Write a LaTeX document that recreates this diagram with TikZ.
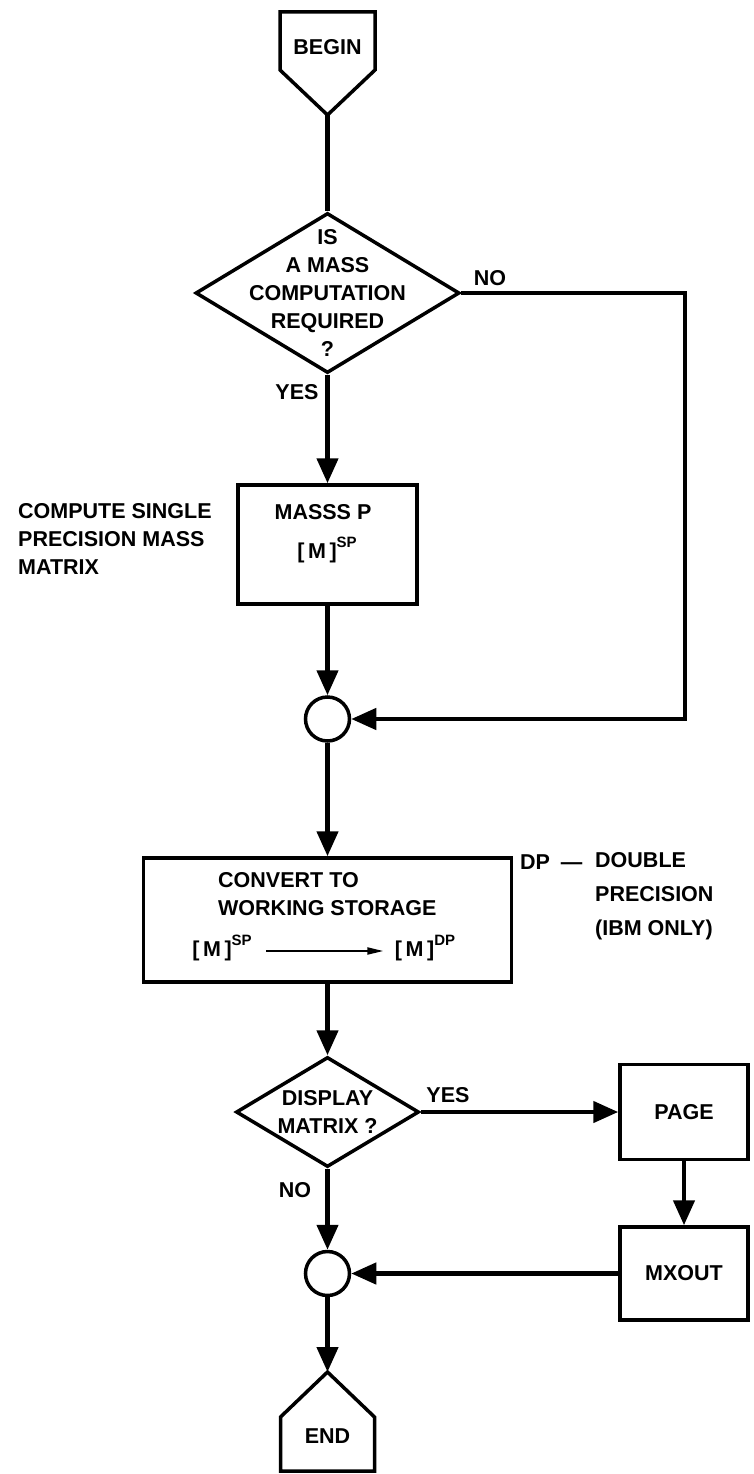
\documentclass[tikz,border=0pt]{standalone}
\usepackage{fontspec}
\setmainfont{Liberation Sans}
\usetikzlibrary{shapes.geometric,arrows.meta,positioning}
\newcommand{\supx}[1]{\raisebox{1.0ex}[0pt][0pt]{\fontsize{15}{15}\selectfont #1}}
\newcommand{\mtx}[1]{[\,M\,]\supx{#1}}

\begin{document}
\begin{tikzpicture}[
    x=1pt, y=-1pt,
    every node/.style={font=\fontsize{21.5}{28}\selectfont\bfseries},
    flow/.style={line width=4.5pt},
    outline/.style={draw, line width=3.5pt},
    procbox/.style={outline, rectangle, inner sep=0pt},
    decision/.style={outline, diamond, inner sep=0pt},
    joint/.style={outline, circle, inner sep=0pt, minimum size=44pt},
    note/.style={align=left, inner sep=0pt},
    >={Triangle[length=25pt,width=21pt]}
]
\useasboundingbox (0,0) rectangle (754,1474);

% start
\draw[outline] (280,12) -- (375,12) -- (375,70) -- (327.5,115) -- (280,70) -- cycle;
\node (begin) at (327.5,47) {BEGIN};
\coordinate (begin tip) at (327.5,115);

\node[decision, minimum width=264pt, minimum height=160pt,
      label={[align=center]center:IS\\A MASS\\COMPUTATION\\REQUIRED\\?}] (ask) at (327.5,293) {};
\node (yes1) at (297,392) {YES};
\node (no1) at (490,278) {NO};

\node[procbox, minimum width=179pt, minimum height=119pt] (massp) at (327.5,544.5) {};
\node (massname) at (323,512) {MASSS P};
\node (msp1) at (327,553) {\mtx{SP}};
\node[note, anchor=west] (spnote) at (18,539) {COMPUTE SINGLE\\PRECISION MASS\\MATRIX};

\node[joint] (joinA) at (327.5,719) {};
\coordinate (noturn) at (685,293);

% working storage
\node[procbox, minimum width=368pt, minimum height=124pt] (convert) at (327.5,920) {};
\node[note, anchor=west] (convtxt) at (218,894) {CONVERT TO\\WORKING STORAGE};
\node (msp) at (222,951) {\mtx{SP}};
\node (mdp) at (425,951) {\mtx{DP}};
\node[note, anchor=west] (dpkey) at (520,862) {DP\enspace---};
\node[note, anchor=west, font=\fontsize{21.5}{34}\selectfont\bfseries] (dpnote) at (595,896)
     {DOUBLE\\PRECISION\\(IBM ONLY)};

% display
\node[decision, minimum width=183pt, minimum height=110pt,
      label={[align=center]center:DISPLAY\\MATRIX ?}] (show) at (327.5,1112) {};
\node (yes2) at (448,1095) {YES};
\node (no2) at (295,1190) {NO};
\node[procbox, minimum width=128pt, minimum height=95pt] (page) at (684,1112) {PAGE};
\node[procbox, minimum width=128pt, minimum height=93pt, below=64pt of page] (mxout) {MXOUT};
\node[joint] (joinB) at (327.5,1273.5) {};

% stop
\draw[outline] (280.5,1417) -- (327.5,1372) -- (374.5,1417) -- (374.5,1471) -- (280.5,1471) -- cycle;
\coordinate (end tip) at (327.5,1372);
\node (end) at (327.5,1436) {END};

\draw[flow] (begin tip) -- (ask.north);
\draw[flow, ->] (ask.south) -- (massp.north);
\draw[flow, ->] (massp.south) -- (joinA.north);
\draw[flow, ->] (ask.east) -- (noturn) |- (joinA.east);
\draw[flow, ->] (joinA.south) -- (convert.north);
\draw[line width=2pt, shorten <=11pt, shorten >=8pt, -{Triangle[length=16pt,width=7pt]}] (msp) -- (mdp);
\draw[flow, ->] (convert.south) -- (show.north);
\draw[flow, ->] (show.east) -- (page.west);
\draw[flow, ->] (page.south) -- (mxout.north);
\draw[flow, ->] (mxout.west) -- (joinB.east);
\draw[flow, ->] (show.south) -- (joinB.north);
\draw[flow, ->] (joinB.south) -- (end tip);
\end{tikzpicture}
\end{document}
